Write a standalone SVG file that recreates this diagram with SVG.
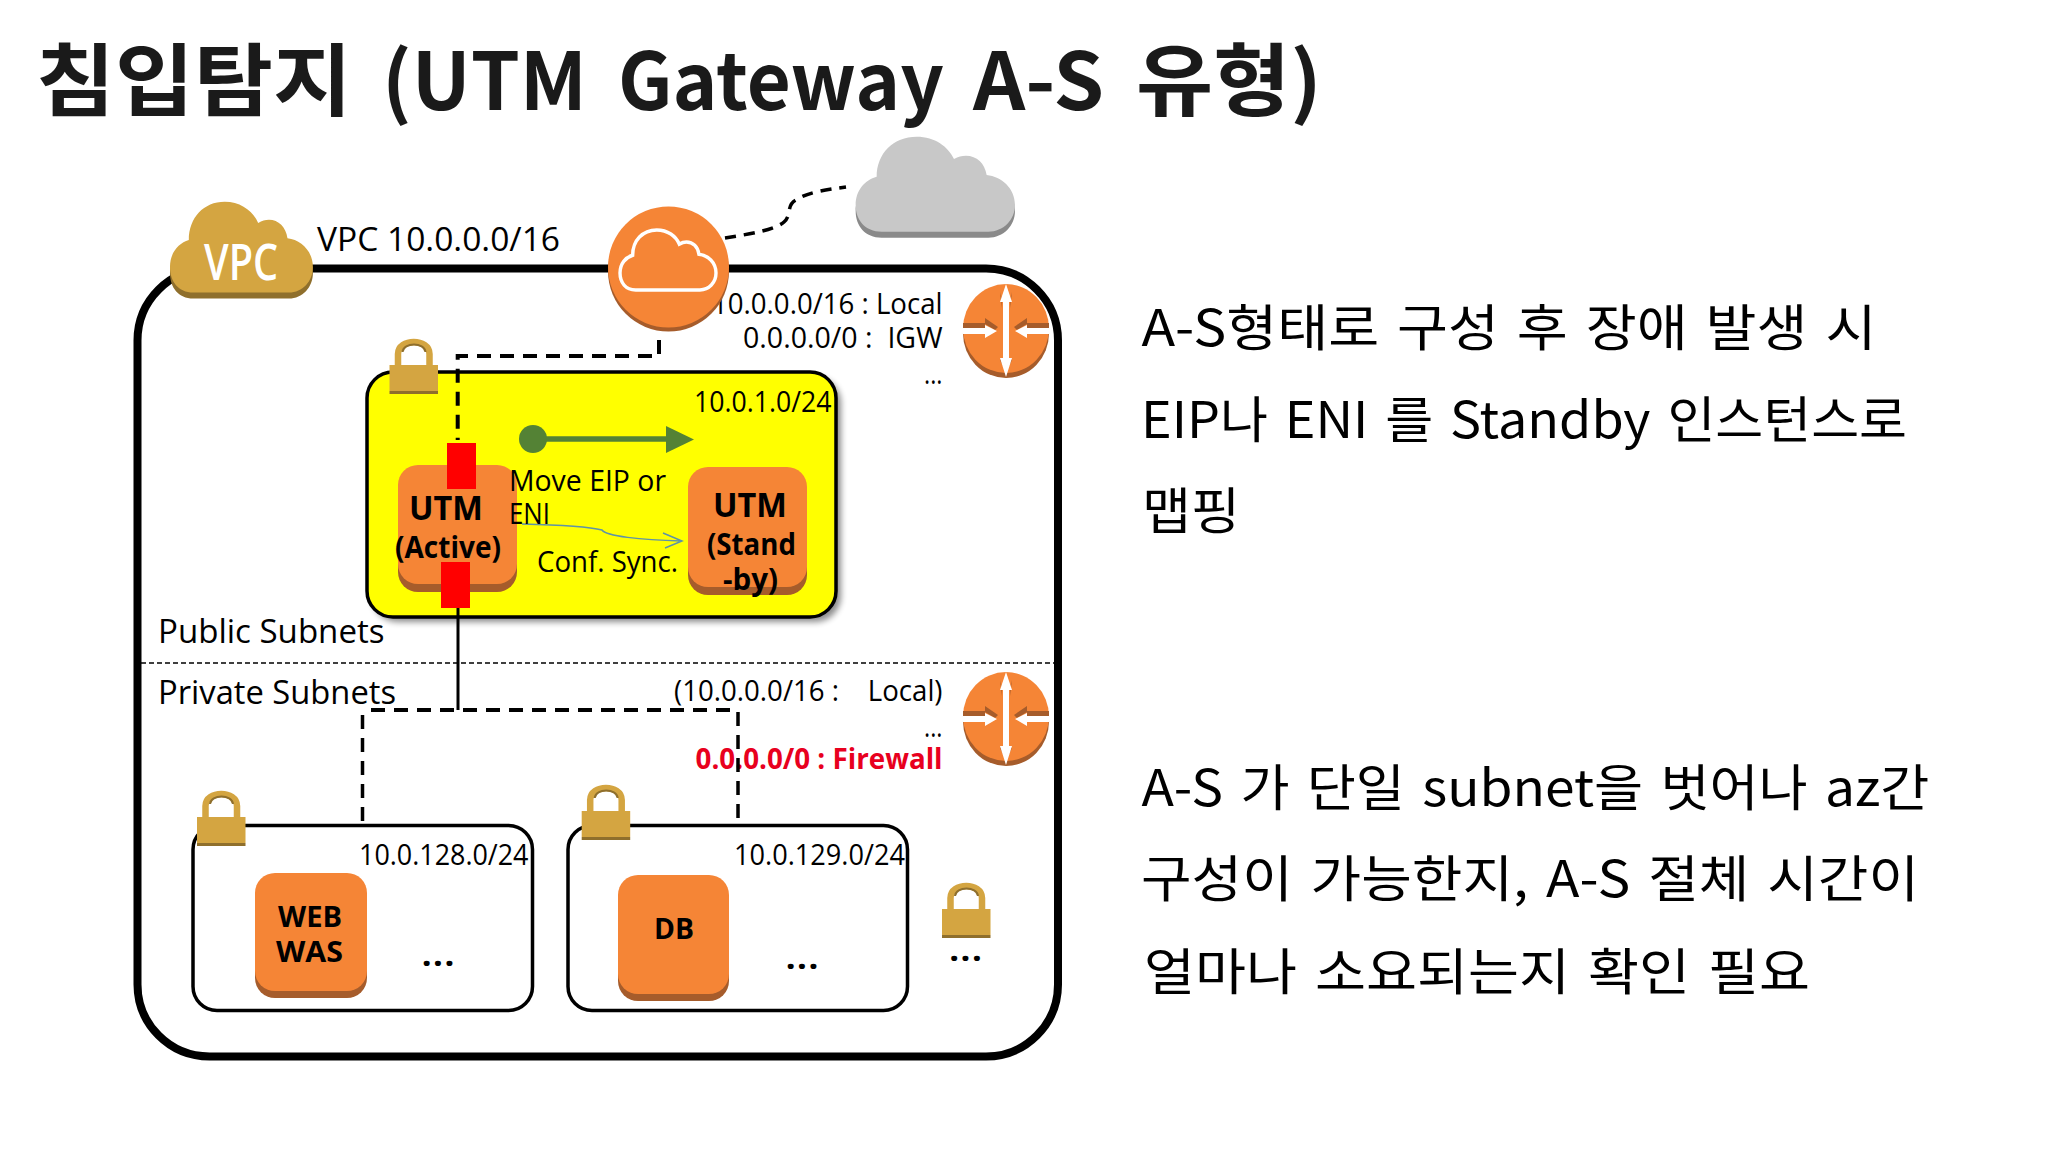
<svg xmlns="http://www.w3.org/2000/svg" width="2048" height="1152" viewBox="0 0 2048 1152">
<style>
text{font-family:"Open Sans","Noto Sans CJK KR",sans-serif;fill:#000;white-space:pre}
.title{font-family:"Noto Sans CJK KR",sans-serif;font-size:79px;font-weight:700;fill:#1a1a1a}
.body{font-family:"Noto Sans CJK KR",sans-serif;font-size:50px;font-weight:400;word-spacing:5px}
.t32{font-size:33px}.t28{font-size:29px}
.b{font-weight:700}.red{fill:#e8001e}
.dots{font-size:36px;font-weight:600}
.dash{fill:none;stroke:#000;stroke-width:4;stroke-dasharray:14 9}
.sub{fill:#fff;stroke:#000;stroke-width:3.5}
.face{fill:#f58536}.shade{fill:#a65c2b}
.gold{fill:#d4a541}.goldd{fill:#8f6f2c}
</style>
<defs>
<path id="cloud" d="M95 320C45 320 17 285 17 240C17 195 45 165 80 155C80 85 130 35 200 35C255 35 295 65 312 102C325 95 335 92 348 92C380 92 405 115 410 150C455 155 495 190 495 240C495 285 460 320 415 320Z"/>
<filter id="soft" x="-5%" y="-5%" width="110%" height="110%"><feGaussianBlur stdDeviation="3"/></filter>
<g id="lock">
<path d="M8.500 0V-11C8.500-27 40-27 40-11V0" fill="none" stroke="#d4a541" stroke-width="6.500"/>
<path d="M13-13C14-23 35-23 36-13" fill="none" stroke="#8f6f2c" stroke-width="2"/>
<rect class="gold" x="0" y="0" width="48.5" height="26"/>
<rect class="goldd" x="0" y="26" width="48.5" height="3"/>
</g>
<g id="router">
<ellipse class="shade" cx="0" cy="3.5" rx="43" ry="44.5"/>
<ellipse class="face" cx="0" cy="-1.5" rx="43" ry="44.5"/>
<path class="shade" d="M-43-7H-21V-2H-43ZM43-7H21V-2H43ZM-21-12L-8-3L-11 0L-21-6ZM21-12L8-3L11 0L21-6ZM-6-38L-4-22V-30ZM6-38L4-22V-30ZM-6 30L-2 38V28ZM6 30L2 38V28Z"/>
<path d="M-43-2H-21V-5L-9 1L-21 8V4H-43ZM43-2H21V-5L9 1L21 8V4H43Z" fill="#fff"/>
<path d="M0-46L6-28H3V28H6L0 47L-6 28H-3V-28H-6Z" fill="#fff"/>
</g>
</defs>
<rect width="2048" height="1152" fill="#fff"/>
<text class="title" y="110"><tspan x="36" textLength="316" lengthAdjust="spacingAndGlyphs">침입탐지</tspan> <tspan x="382" textLength="205" lengthAdjust="spacingAndGlyphs">(UTM</tspan> <tspan x="618" textLength="326" lengthAdjust="spacingAndGlyphs">Gateway</tspan> <tspan x="973" textLength="131" lengthAdjust="spacingAndGlyphs">A-S</tspan> <tspan x="1136" textLength="186" lengthAdjust="spacingAndGlyphs">유형)</tspan></text>

<g id="vpc-box"><rect x="137.5" y="268.5" width="920.5" height="788" rx="72" ry="72" fill="#fff" stroke="#000" stroke-width="8"/>
<line x1="141" y1="663" x2="1054" y2="663" stroke="#000" stroke-width="1.5" stroke-dasharray="5 3"/>
<text class="t32" x="158" y="643" textLength="226.5" lengthAdjust="spacingAndGlyphs">Public Subnets</text>
<text class="t32" x="158" y="704" textLength="238" lengthAdjust="spacingAndGlyphs">Private Subnets</text>
<text class="t32" x="317" y="251" textLength="243" lengthAdjust="spacingAndGlyphs">VPC 10.0.0.0/16</text>
</g>

<g id="route-public">
<text class="t28" x="712" y="314" textLength="230.5" lengthAdjust="spacingAndGlyphs">10.0.0.0/16 : Local</text>
<text class="t28" x="743" y="348" textLength="199.5" lengthAdjust="spacingAndGlyphs">0.0.0.0/0 :  IGW</text>
<text class="t28" x="924" y="384" textLength="18.5" lengthAdjust="spacingAndGlyphs">...</text>
</g>
<g id="route-private">
<text class="t28" x="674" y="701" textLength="268.5" lengthAdjust="spacingAndGlyphs">(10.0.0.0/16 :    Local)</text>
<text class="t28" x="924" y="737" textLength="18.5" lengthAdjust="spacingAndGlyphs">...</text>
<text class="t28 b red" x="695.6" y="769" textLength="247" lengthAdjust="spacingAndGlyphs">0.0.0.0/0 : Firewall</text>
</g>

<g id="public-subnet">
<rect x="372" y="377" width="469" height="245" rx="26" fill="#000" opacity=".45" filter="url(#soft)"/>
<rect x="367" y="372" width="469" height="245" rx="26" fill="#ff0" stroke="#000" stroke-width="3.5"/>
<text class="t28" x="694" y="412" textLength="137.5" lengthAdjust="spacingAndGlyphs">10.0.1.0/24</text>
</g>
<g id="utm-active">
<rect class="shade" x="398" y="485" width="119" height="107" rx="20"/>
<rect class="face" x="398" y="465" width="119" height="119" rx="20"/>
<text class="b" x="409" y="520" style="font-size:34px" textLength="74" lengthAdjust="spacingAndGlyphs">UTM</text>
<text class="b" x="395" y="558" style="font-size:31px" textLength="106" lengthAdjust="spacingAndGlyphs">(Active)</text>
</g>
<g id="utm-standby">
<rect class="shade" x="688" y="487" width="119" height="108" rx="20"/>
<rect class="face" x="688" y="467" width="119" height="120" rx="20"/>
<text class="b" x="713" y="517" style="font-size:34px" textLength="74" lengthAdjust="spacingAndGlyphs">UTM</text>
<text class="b" x="707" y="555" style="font-size:31px" textLength="89" lengthAdjust="spacingAndGlyphs">(Stand</text>
<text class="b" x="723" y="590" style="font-size:31px" textLength="55" lengthAdjust="spacingAndGlyphs">-by)</text>
</g>
<g id="web-subnet">
<rect class="sub" x="193" y="825.5" width="339.5" height="185" rx="24"/>
<text class="t28" x="359" y="865" textLength="169.5" lengthAdjust="spacingAndGlyphs">10.0.128.0/24</text>
<text class="dots" x="421" y="966" textLength="34" lengthAdjust="spacingAndGlyphs">...</text>
</g>
<g id="db-subnet">
<rect class="sub" x="568" y="825.5" width="339.5" height="185" rx="24"/>
<text class="t28" x="734" y="865" textLength="171" lengthAdjust="spacingAndGlyphs">10.0.129.0/24</text>
<text class="dots" x="785" y="969" textLength="34" lengthAdjust="spacingAndGlyphs">...</text>
</g>
<g id="web-was">
<rect class="shade" x="255" y="893" width="112" height="105" rx="20"/>
<rect class="face" x="255" y="873" width="112" height="118" rx="20"/>
<text class="b" x="278" y="927" style="font-size:29px" textLength="64" lengthAdjust="spacingAndGlyphs">WEB</text>
<text class="b" x="276" y="962" style="font-size:29px" textLength="67" lengthAdjust="spacingAndGlyphs">WAS</text>
</g>
<g id="db">
<rect class="shade" x="618" y="895" width="111" height="106" rx="20"/>
<rect class="face" x="618" y="875" width="111" height="119" rx="20"/>
<text class="b" x="654" y="939" style="font-size:29px" textLength="40" lengthAdjust="spacingAndGlyphs">DB</text>
</g>

<g id="connectors">
<path class="dash" d="M659 340V356H457.7V440"/>
<path d="M458 608V710" fill="none" stroke="#000" stroke-width="3"/>
<path class="dash" d="M371 710H731"/>
<path class="dash" style="stroke-width:3.5" d="M362.500 715V826M738 712V826"/>
<path d="M725 238C750 234 775 230 784 222C792 215 786 205 796 200C808 192 825 190 846 187" fill="none" stroke="#000" stroke-width="3.500" stroke-dasharray="11 8"/>
<path d="M522 524C560 525 590 527 602 530C606 536 640 540 681 541M663 533L682 541L665 548" fill="none" stroke="#5f93a6" stroke-width="1.500"/>
<path d="M533 439H668" stroke="#548235" stroke-width="5.500" fill="none"/>
<circle cx="533" cy="439" r="14" fill="#548235"/>
<path d="M666 426L694 439.500L666 453Z" fill="#548235"/>
</g>
<g id="eni-active"><rect x="447" y="443" width="29" height="46" fill="#f00"/><rect x="441" y="562" width="29" height="46" fill="#f00"/></g>
<g id="labels-sync">
<text class="t28" x="509" y="491" textLength="157" lengthAdjust="spacingAndGlyphs">Move EIP or</text>
<text class="t28" x="509" y="524" textLength="41" lengthAdjust="spacingAndGlyphs">ENI</text>
<text class="t28" x="537" y="572" textLength="141" lengthAdjust="spacingAndGlyphs">Conf. Sync.</text>
</g>

<g id="lock-public"><use href="#lock" transform="translate(389.500 365)"/></g>
<g id="lock-web"><use href="#lock" transform="translate(197 817)"/></g>
<g id="lock-db"><use href="#lock" transform="translate(581.700 811)"/></g>
<g id="lock-more"><use href="#lock" transform="translate(942 909)"/>
<text class="dots" x="948.500" y="961" textLength="34" lengthAdjust="spacingAndGlyphs">...</text></g>

<g id="router-public"><use href="#router" transform="translate(1006 330)"/></g>
<g id="router-private"><use href="#router" transform="translate(1006 718)"/></g>

<g id="vpc-cloud">
<use href="#cloud" class="goldd" transform="translate(164.900 196.500) scale(.299 .319)"/>
<use href="#cloud" class="gold" transform="translate(164.900 190.500) scale(.299 .319)"/>
<text class="b" x="204" y="280" style="font-size:50px;font-weight:600;fill:#fff" textLength="74" lengthAdjust="spacingAndGlyphs">VPC</text>
</g>
<g id="internet-cloud">
<use href="#cloud" fill="#8a8a8a" transform="translate(850 131) scale(.3333)"/>
<use href="#cloud" fill="#c8c8c8" transform="translate(850 125) scale(.3333)"/>
</g>
<g id="igw">
<circle class="shade" cx="668.500" cy="271" r="60.500"/>
<circle class="face" cx="668.500" cy="267" r="60.500"/>
<use href="#cloud" fill="none" stroke="#fff" stroke-width="17" transform="translate(616.600 222.600) scale(.2008 .2105)"/>
</g>

<g id="notes">
<text class="body" x="1141.400" y="346" textLength="735" lengthAdjust="spacingAndGlyphs">A-S형태로 구성 후 장애 발생 시</text>
<text class="body" x="1141" y="438" textLength="766" lengthAdjust="spacingAndGlyphs">EIP나 ENI 를 Standby 인스턴스로</text>
<text class="body" x="1142" y="529" textLength="98" lengthAdjust="spacingAndGlyphs">맵핑</text>
<text class="body" x="1141.400" y="806" textLength="788" lengthAdjust="spacingAndGlyphs">A-S 가 단일 subnet을 벗어나 az간</text>
<text class="body" x="1141" y="897" textLength="778" lengthAdjust="spacingAndGlyphs">구성이 가능한지, A-S 절체 시간이</text>
<text class="body" x="1144" y="990" textLength="666" lengthAdjust="spacingAndGlyphs">얼마나 소요되는지 확인 필요</text>
</g>
</svg>
